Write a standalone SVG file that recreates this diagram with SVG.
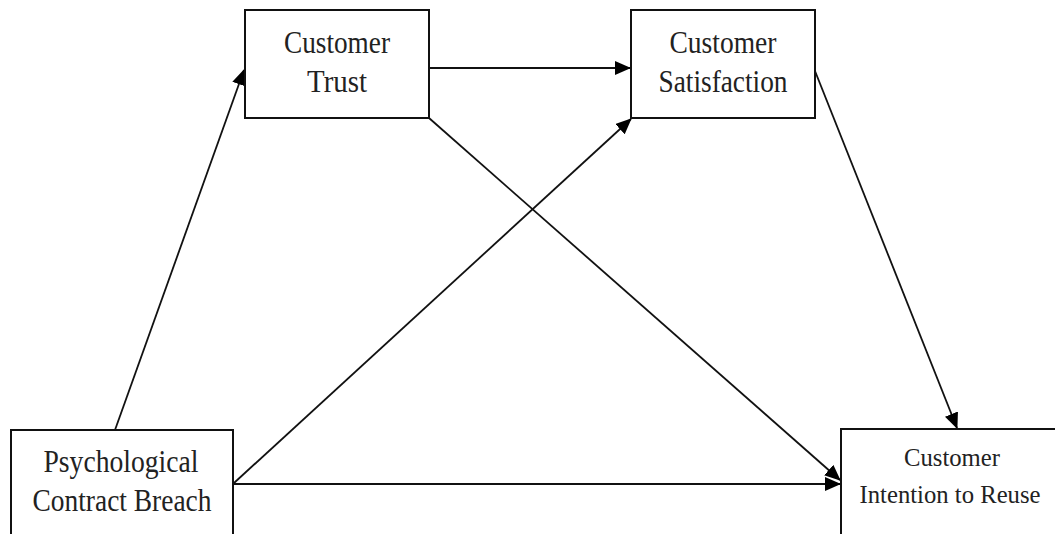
<svg xmlns="http://www.w3.org/2000/svg" width="1055" height="534" viewBox="0 0 1055 534">
<style>
.box{fill:#fff;stroke:#111;stroke-width:2}
.t{font-family:"Liberation Serif","Times New Roman",serif;font-size:31px;fill:#222;text-anchor:middle}
.ts{font-family:"Liberation Serif","Times New Roman",serif;font-size:26px;fill:#222;text-anchor:middle}
.c{stroke:#111;stroke-width:1.8;fill:none;marker-end:url(#ah)}
</style>
<defs>
<marker id="ah" markerUnits="userSpaceOnUse" markerWidth="16" markerHeight="14" refX="15" refY="7" orient="auto">
<path d="M0,0 L16,7 L0,14 Z" fill="#000"/>
</marker>
</defs>
<rect width="1055" height="534" fill="#fff"/>
<g id="connectors">
<line class="c" x1="115" y1="430" x2="244" y2="70"/>
<line class="c" x1="430" y1="68" x2="630" y2="68"/>
<line class="c" x1="234" y1="483" x2="631" y2="119"/>
<line class="c" x1="429" y1="118" x2="840" y2="480"/>
<line class="c" x1="234" y1="484" x2="840" y2="484"/>
<line class="c" x1="815" y1="71" x2="957" y2="428"/>
</g>
<g id="trust">
<rect class="box" x="245" y="10" width="184" height="108"/>
<text class="t" x="337" y="53" textLength="106" lengthAdjust="spacingAndGlyphs">Customer</text>
<text class="t" x="337" y="92" textLength="60" lengthAdjust="spacingAndGlyphs">Trust</text>
</g>
<g id="satisfaction">
<rect class="box" x="631" y="10" width="184" height="108"/>
<text class="t" x="723" y="53" textLength="107" lengthAdjust="spacingAndGlyphs">Customer</text>
<text class="t" x="723" y="92" textLength="129" lengthAdjust="spacingAndGlyphs">Satisfaction</text>
</g>
<g id="pcb">
<rect class="box" x="11" y="430" width="222" height="110"/>
<text class="t" x="121" y="472" textLength="155" lengthAdjust="spacingAndGlyphs">Psychological</text>
<text class="t" x="122" y="511" textLength="179" lengthAdjust="spacingAndGlyphs">Contract Breach</text>
</g>
<g id="reuse">
<rect class="box" x="841" y="429" width="220" height="110"/>
<text class="ts" x="952" y="466" textLength="96" lengthAdjust="spacingAndGlyphs">Customer</text>
<text class="ts" x="950" y="503" textLength="181" lengthAdjust="spacingAndGlyphs">Intention to Reuse</text>
</g>
</svg>
